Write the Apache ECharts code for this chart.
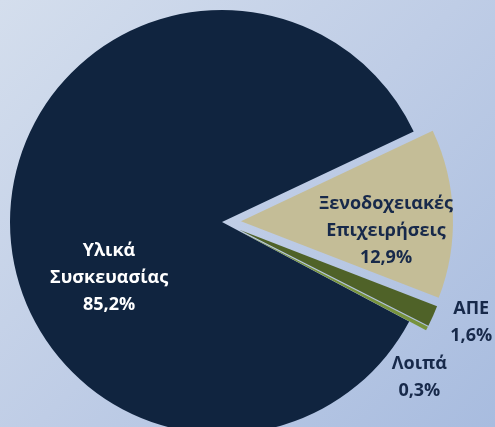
<!DOCTYPE html>
<html><head><meta charset="utf-8">
<script src="https://cdn.jsdelivr.net/npm/echarts@6/dist/echarts.min.js"></script>
<style>html,body{margin:0;padding:0;}#c{width:495px;height:427px;background:linear-gradient(135deg,#d4deed 0%,#bfcde6 50%,#a8bcdf 100%);}</style>
</head><body><div id="c"></div>
<script>
const categories = ['Υλικά\nΣυσκευασίας', 'Ξενοδοχειακές\nΕπιχειρήσεις', 'ΑΠΕ', 'Λοιπά'];
const values = [85.2, 12.9, 1.6, 0.3];
const valueLabels = ['85,2%', '12,9%', '1,6%', '0,3%'];
const colors = ['#10243f', '#c4bd97', '#4f6228', '#77933c'];
const exploded = [false, true, true, true];
const labelColors = ['#ffffff', '#17294a', '#17294a', '#17294a'];
const labelOffsets = [[-4, 58], [39, 17], [133, 45], [86, 97]];

const chart = echarts.init(document.getElementById('c'), null, {renderer: 'canvas'});
chart.setOption({
  animation: false,
  series: [{
    type: 'pie',
    center: [222, 222],
    radius: [0, 212],
    startAngle: -28,
    clockwise: true,
    selectedMode: 'multiple',
    selectedOffset: 19,
    silent: true,
    labelLine: {show: false},
    emphasis: {disabled: true},
    data: categories.map((c, i) => {
      const lbl = {
        show: true,
        position: 'inside',
        formatter: () => c + '\n' + valueLabels[i],
        color: labelColors[i],
        fontFamily: 'Open Sans',
        fontWeight: 'bold',
        fontSize: 18,
        lineHeight: 27,
        align: 'center',
        offset: labelOffsets[i]
      };
      return {
        name: c,
        value: values[i],
        selected: exploded[i],
        itemStyle: {color: colors[i]},
        label: lbl,
        select: {itemStyle: {color: colors[i]}, label: Object.assign({}, lbl)}
      };
    })
  }]
});
</script></body></html>
